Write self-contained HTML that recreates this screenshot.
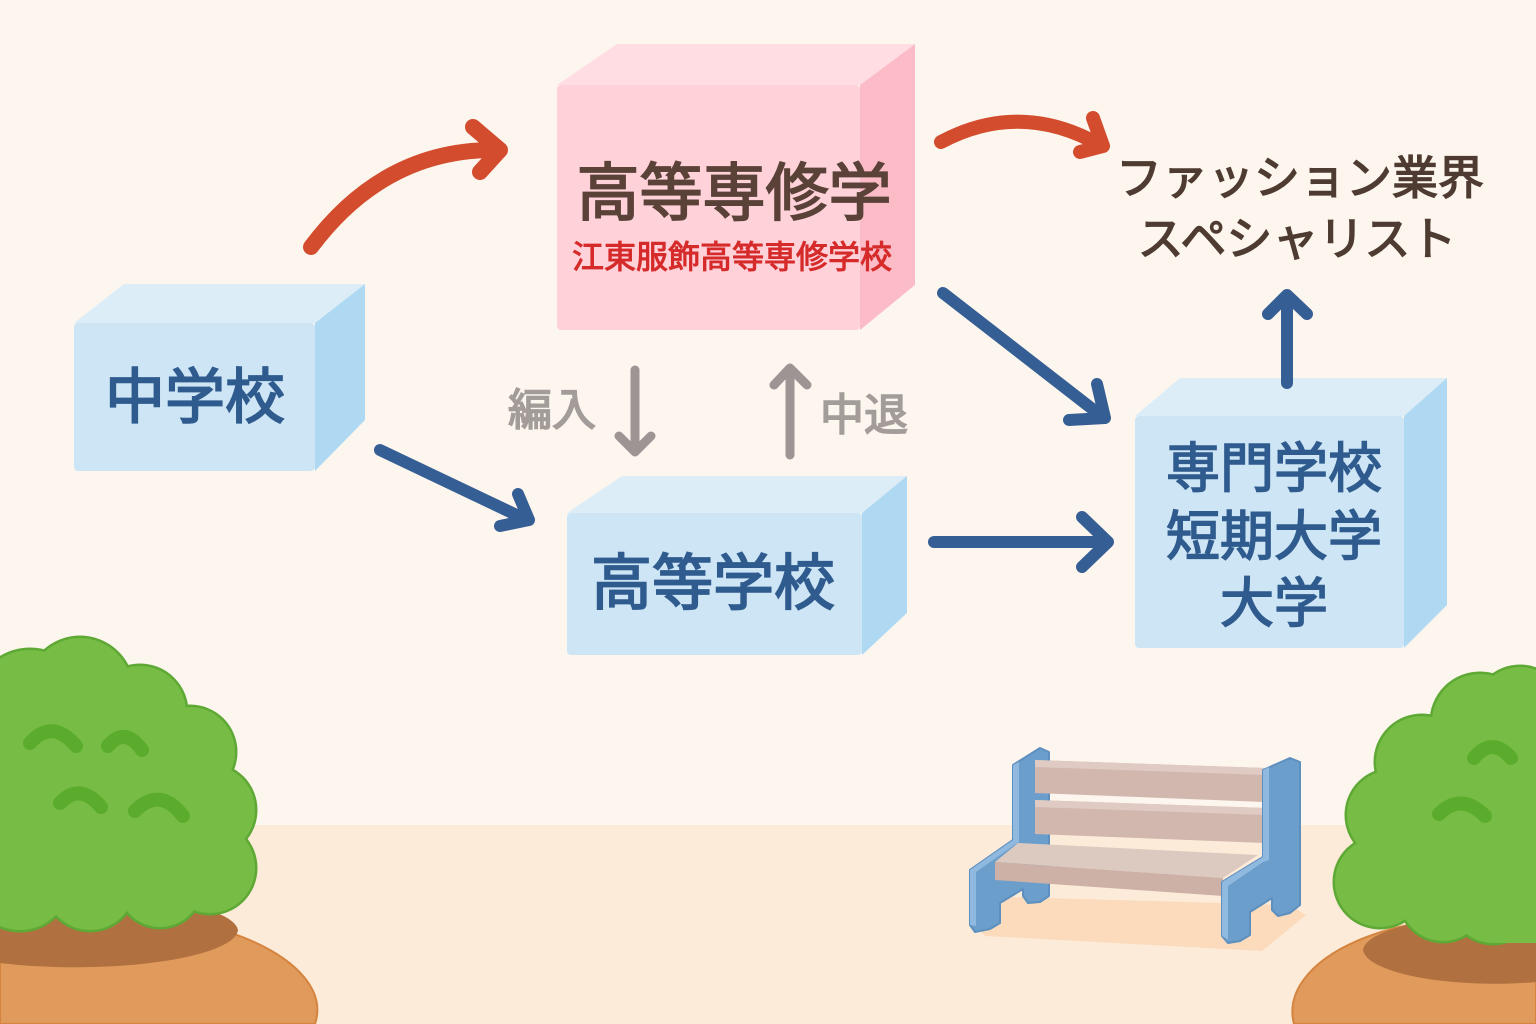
<!DOCTYPE html>
<html lang="ja">
<head>
<meta charset="utf-8">
<style>
  html,body{margin:0;padding:0;background:#fdf6ee;width:1536px;height:1024px;overflow:hidden;}
  svg{display:block;}
  .jp{font-family:"Liberation Sans","Noto Sans CJK JP",sans-serif;}
</style>
</head>
<body>
<svg width="1536" height="1024" viewBox="0 0 1536 1024" xmlns="http://www.w3.org/2000/svg">
  <!-- background -->
  <rect x="0" y="0" width="1536" height="1024" fill="#fdf6ee"/>
  <rect x="0" y="825" width="1536" height="199" fill="#fdebd9"/>

  <!-- ===== Box A: 中学校 ===== -->
  <g>
    <polygon points="74,323 124,284 365,284 315,323" fill="#dcedf8"/>
    <polygon points="315,323 365,284 365,420 315,471" fill="#afd9f2"/>
    <rect x="74" y="323" width="241" height="148" rx="4" fill="#cde5f5"/>
    <text x="195" y="418" text-anchor="middle" class="jp" font-size="60" font-weight="400" fill="#2f5b8e" stroke="#2f5b8e" stroke-width="1.8">中学校</text>
  </g>

  <!-- ===== Box B: 高等専修学 (pink) ===== -->
  <g>
    <polygon points="557,85 617,44 915,44 860,85" fill="#ffdde3"/>
    <polygon points="860,85 915,44 915,285 860,330" fill="#fcbcc7"/>
    <rect x="557" y="85" width="303" height="245" rx="4" fill="#ffd2da"/>
    <text x="734" y="215" text-anchor="middle" class="jp" font-size="63" font-weight="400" fill="#5a4238" stroke="#5a4238" stroke-width="1.8">高等専修学</text>
    <text x="732" y="268" text-anchor="middle" class="jp" font-size="32" font-weight="400" fill="#d62b2b" stroke="#d62b2b" stroke-width="1">江東服飾高等専修学校</text>
  </g>

  <!-- ===== Box C: 高等学校 ===== -->
  <g>
    <polygon points="567,513 622,476 907,476 862,513" fill="#dcedf8"/>
    <polygon points="862,513 907,476 907,613 862,655" fill="#afd9f2"/>
    <rect x="567" y="513" width="295" height="142" rx="4" fill="#cde5f5"/>
    <text x="713" y="604" text-anchor="middle" class="jp" font-size="61" font-weight="400" fill="#2f5b8e" stroke="#2f5b8e" stroke-width="1.8">高等学校</text>
  </g>

  <!-- ===== Box D: 専門学校 短期大学 大学 ===== -->
  <g>
    <polygon points="1135,416 1180,378 1447,378 1404,416" fill="#dcedf8"/>
    <polygon points="1404,416 1447,378 1447,605 1404,648" fill="#afd9f2"/>
    <rect x="1135" y="416" width="269" height="232" rx="4" fill="#cde5f5"/>
    <g class="jp" font-size="54" font-weight="400" fill="#2f5b8e" stroke="#2f5b8e" stroke-width="1.6" text-anchor="middle">
      <text x="1274" y="487">専門学校</text>
      <text x="1274" y="555">短期大学</text>
      <text x="1274" y="622">大学</text>
    </g>
  </g>

  <!-- ===== Career text ===== -->
  <g class="jp" font-size="46" font-weight="400" fill="#4e3b31" stroke="#4e3b31" stroke-width="1.4" text-anchor="middle">
    <text x="1300" y="194">ファッション業界</text>
    <text x="1297" y="255">スペシャリスト</text>
  </g>

  <!-- ===== Red arrows ===== -->
  <g fill="none" stroke="#d34c2e" stroke-linecap="round" stroke-linejoin="round">
    <path d="M311,247 Q385,148 498,150" stroke-width="16"/>
    <polyline points="473,127 500,150 480,172" stroke-width="16"/>
    <path d="M941,142 Q1020,100 1100,145" stroke-width="14"/>
    <polyline points="1093,118 1103,146 1080,152" stroke-width="14"/>
  </g>

  <!-- ===== Blue arrows ===== -->
  <g fill="none" stroke="#355f94" stroke-width="12" stroke-linecap="round" stroke-linejoin="round">
    <line x1="380" y1="450" x2="527" y2="520"/>
    <polyline points="518,494 529,520 500,526"/>
    <line x1="943" y1="293" x2="1104" y2="418"/>
    <polyline points="1097,384 1105,418 1069,420"/>
    <line x1="934" y1="542" x2="1107" y2="542"/>
    <polyline points="1082,517 1108,542 1082,567"/>
    <line x1="1287" y1="383" x2="1287" y2="296"/>
    <polyline points="1268,314 1287,295 1307,314"/>
  </g>

  <!-- ===== Gray arrows + labels ===== -->
  <g fill="none" stroke="#9d9593" stroke-width="9" stroke-linecap="round" stroke-linejoin="round">
    <line x1="635" y1="370" x2="635" y2="450"/>
    <polyline points="619,436 635,452 651,436"/>
    <line x1="790" y1="455" x2="790" y2="369"/>
    <polyline points="774,385 790,368 807,385"/>
  </g>
  <g class="jp" font-size="44" font-weight="400" fill="#a39c99" stroke="#a39c99" stroke-width="1.6">
    <text x="508" y="425">編入</text>
    <text x="820" y="430">中退</text>
  </g>

  <!-- ===== Left pot & bush ===== -->
  <path d="M0,1024 L0,916 A237,100 0 0 1 315,1024 Z" fill="#e09a5b" stroke="#d5843f" stroke-width="2"/>
  <path d="M0,898 A163,38 0 0 1 238,930 A163,38 0 0 1 0,963 Z" fill="#b07040"/>
  <g stroke="#5ea935" stroke-width="5" fill="#5ea935">
    <circle cx="30" cy="705" r="55"/>
    <circle cx="80" cy="690" r="52"/>
    <circle cx="140" cy="712" r="46"/>
    <circle cx="190" cy="752" r="45"/>
    <circle cx="210" cy="810" r="45"/>
    <circle cx="210" cy="868" r="45"/>
    <circle cx="160" cy="885" r="42"/>
    <circle cx="90" cy="885" r="45"/>
    <circle cx="20" cy="880" r="50"/>
  </g>
  <g fill="#76bc45">
    <circle cx="30" cy="705" r="55"/>
    <circle cx="80" cy="690" r="52"/>
    <circle cx="140" cy="712" r="46"/>
    <circle cx="190" cy="752" r="45"/>
    <circle cx="210" cy="810" r="45"/>
    <circle cx="210" cy="868" r="45"/>
    <circle cx="160" cy="885" r="42"/>
    <circle cx="90" cy="885" r="45"/>
    <circle cx="20" cy="880" r="50"/>
    <ellipse cx="110" cy="800" rx="125" ry="110"/>
  </g>
  <g fill="none" stroke="#5bac2d" stroke-width="14" stroke-linecap="round">
    <path d="M30,743 Q52,718 76,746"/>
    <path d="M108,746 Q125,726 142,750"/>
    <path d="M60,803 Q80,782 101,807"/>
    <path d="M135,811 Q160,786 183,816"/>
  </g>

  <!-- ===== Bench ===== -->
  <polygon points="975,926 1010,897 1290,905 1306,915 1262,951 985,936" fill="#fbdbbb"/>
  <!-- left frame -->
  <polygon points="1013,765 1040,748 1049,752 1049,896 1040,902 1028,903 1023,896 1023,889 1000,903 1000,923 990,929 975,932 970,925 970,870 1013,840" fill="#6c9ecb" stroke="#5d8fbf" stroke-width="2" stroke-linejoin="round"/>
  <polygon points="970,870 1013,840 1013,846 976,872 976,926 970,925" fill="#8fb9de"/>
  <polygon points="1013,765 1019,762 1019,842 1013,846" fill="#8fb9de"/>
  <!-- back slats -->
  <polygon points="1035,760 1265,768 1265,802 1035,793" fill="#d2b7ae"/>
  <polygon points="1035,760 1265,768 1265,775 1035,767" fill="#dfcbc3"/>
  <polygon points="1035,800 1265,808 1265,843 1035,834" fill="#d2b7ae"/>
  <polygon points="1035,800 1265,808 1265,815 1035,807" fill="#dfcbc3"/>
  <!-- seat -->
  <polygon points="1018,843 1258,855 1223,878 995,862" fill="#dccac1"/>
  <polygon points="995,862 1223,878 1223,896 995,880" fill="#cdb0a6"/>
  <!-- right frame -->
  <polygon points="1263,770 1290,758 1300,762 1300,905 1290,913 1278,916 1272,910 1272,898 1250,912 1250,935 1240,941 1228,943 1222,936 1222,882 1263,857" fill="#6c9ecb" stroke="#5d8fbf" stroke-width="2" stroke-linejoin="round"/>
  <polygon points="1222,882 1263,857 1263,862 1228,886 1228,940 1222,936" fill="#8fb9de"/>
  <polygon points="1263,770 1269,767 1269,860 1263,862" fill="#8fb9de"/>

  <!-- ===== Right pot & bush ===== -->
  <path d="M1294,1024 A188,94 0 0 1 1536,922 L1536,1024 Z" fill="#e09a5b" stroke="#d5843f" stroke-width="2"/>
  <path d="M1536,918 A132,35 0 0 0 1363,950 A132,35 0 0 0 1536,982 Z" fill="#b07040"/>
  <g stroke="#5ea935" stroke-width="5" fill="#5ea935">
    <circle cx="1480" cy="722" r="48"/>
    <circle cx="1520" cy="712" r="45"/>
    <circle cx="1422" cy="762" r="46"/>
    <circle cx="1392" cy="815" r="45"/>
    <circle cx="1380" cy="882" r="45"/>
    <circle cx="1443" cy="898" r="43"/>
    <circle cx="1493" cy="900" r="43"/>
  </g>
  <g fill="#76bc45">
    <circle cx="1480" cy="722" r="48"/>
    <circle cx="1520" cy="712" r="45"/>
    <circle cx="1422" cy="762" r="46"/>
    <circle cx="1392" cy="815" r="45"/>
    <circle cx="1380" cy="882" r="45"/>
    <circle cx="1443" cy="898" r="43"/>
    <circle cx="1493" cy="900" r="43"/>
    <ellipse cx="1485" cy="820" rx="110" ry="110"/>
    <rect x="1490" y="700" width="46" height="243"/>
  </g>
  <g fill="none" stroke="#5bac2d" stroke-width="14" stroke-linecap="round">
    <path d="M1474,758 Q1492,736 1511,758"/>
    <path d="M1439,814 Q1461,792 1485,816"/>
  </g>
</svg>
</body>
</html>
